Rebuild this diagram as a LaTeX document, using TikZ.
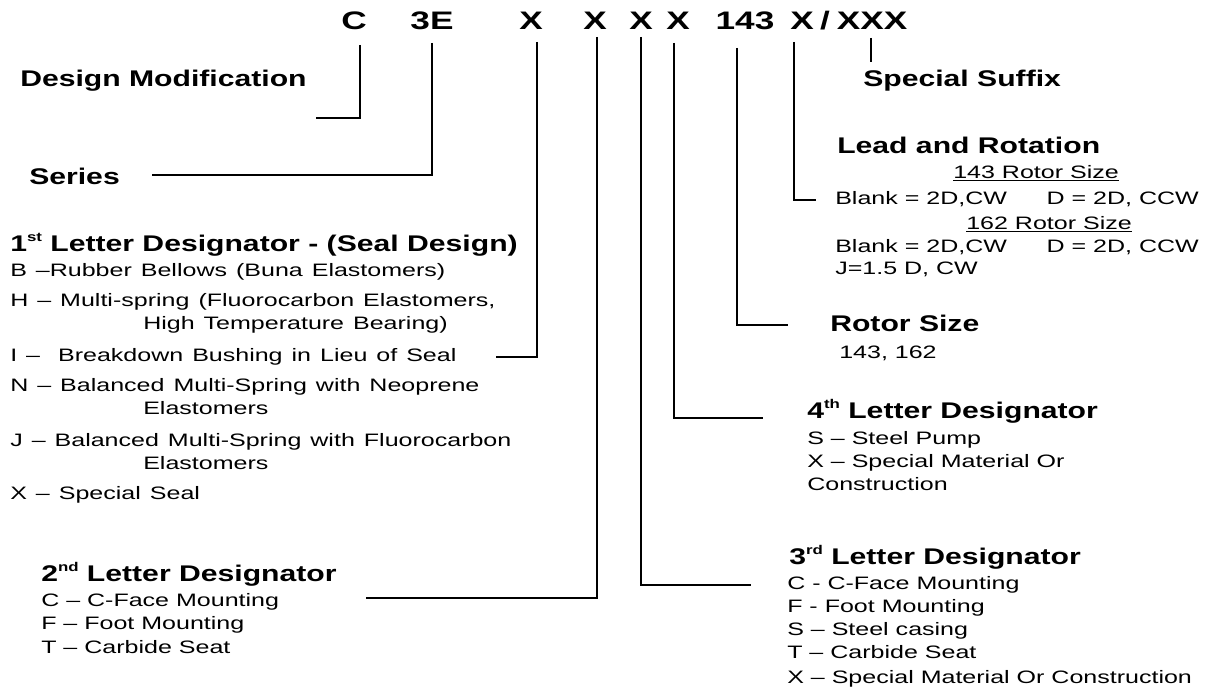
\documentclass[tikz,border=0pt]{standalone}
\usepackage{fontspec}
\setmainfont{Liberation Sans}[FakeStretch=1.39]
\newfontfamily\headfont{Liberation Sans}[FakeStretch=1.33]
\newcommand{\ordsup}[1]{\raisebox{0.42em}{\fontsize{9.5}{10}\selectfont #1}}
\newcommand{\widebodyfont}{\fontsize{13.5}{16}\selectfont\spaceskip=0.5em plus 0.1em minus 0.05em\relax}
\begin{document}
\begin{tikzpicture}[x=0.75pt,y=-0.75pt]
\tikzset{
 code/.style={font=\fontsize{19}{22}\selectfont\bfseries, inner sep=0pt, anchor=base},
 head/.style={font=\headfont\fontsize{17}{20}\selectfont\bfseries, inner sep=0pt, anchor=base west},
 body/.style={font=\fontsize{13.5}{16}\selectfont, inner sep=0pt, anchor=base west},
 bodywide/.style={font=\widebodyfont, inner sep=0pt, anchor=base west},
 conn/.style={line width=1.4pt, black},
}
\useasboundingbox (0,0) rectangle (1213,692);
% code row
\node[code] (cC) at (354,30) {C};
\node[code] (c3E) at (432,30) {3E};
\node[code] (cX1) at (531,30) {X};
\node[code] (cX2) at (595,30) {X};
\node[code] (cX3) at (641,30) {X};
\node[code] (cX4) at (678,30) {X};
\node[code] (c143) at (745,30) {143};
\node[code] (cX5) at (802,30) {X};
\node[code] (cSl) at (825,30) {/};
\node[code] (cXXX) at (872,30) {XXX};
% headers
\node[head] (hDM) at (20,87) {Design Modification};
\node[head] (hSer) at (29,184) {Series};
\node[head] (h1) at (10,251) {1\ordsup{st} Letter Designator - (Seal Design)};
\node[head] (h2) at (41,581) {2\ordsup{nd} Letter Designator};
\node[head] (h3) at (789,564) {3\ordsup{rd} Letter Designator};
\node[head] (h4) at (807,418) {4\ordsup{th} Letter Designator};
\node[head] (hRS) at (830,331) {Rotor Size};
\node[head] (hLR) at (837,153) {Lead and Rotation};
\node[head] (hSS) at (863,86) {Special Suffix};
% 1st designator items
\node[bodywide] (b1) at (10,276.5) {B –Rubber Bellows (Buna Elastomers)};
\node[bodywide] (b2) at (10,306.5) {H – Multi-spring (Fluorocarbon Elastomers,};
\node[bodywide] (b3) at (143,329.5) {High Temperature Bearing)};
\node[bodywide] (b4) at (10,361.5) {I – \ Breakdown Bushing in Lieu of Seal};
\node[bodywide] (b5) at (10,391.5) {N – Balanced Multi-Spring with Neoprene};
\node[bodywide] (b6) at (143,414.5) {Elastomers};
\node[bodywide] (b7) at (10,446.5) {J – Balanced Multi-Spring with Fluorocarbon};
\node[bodywide] (b8) at (143,469.5) {Elastomers};
\node[bodywide] (b9) at (10,499.5) {X – Special Seal};
% 2nd designator
\node[body] (s1) at (41,606.5) {C – C-Face Mounting};
\node[body] (s2) at (41,629.5) {F – Foot Mounting};
\node[body] (s3) at (41,653.5) {T – Carbide Seat};
% 3rd designator
\node[body] (t1) at (787,589.5) {C - C-Face Mounting};
\node[body] (t2) at (787,612.5) {F - Foot Mounting};
\node[body] (t3) at (787,635.5) {S – Steel casing};
\node[body] (t4) at (787,658.5) {T – Carbide Seat};
\node[body] (t5) at (787,683.5) {X – Special Material Or Construction};
% 4th designator
\node[body] (f1) at (807,444.5) {S – Steel Pump};
\node[body] (f2) at (807,467.5) {X – Special Material Or};
\node[body] (f3) at (807,490.5) {Construction};
% rotor size
\node[body] (r1) at (839,358.5) {143, 162};
% lead and rotation
\node[body] (l1) at (953,178.5) {\underline{143 Rotor Size}};
\node[body] (l2) at (835,204.5) {Blank = 2D,CW\hspace{2.2em}D = 2D, CCW};
\node[body] (l3) at (966,229.5) {\underline{162 Rotor Size}};
\node[body] (l4) at (835,252.5) {Blank = 2D,CW\hspace{2.2em}D = 2D, CCW};
\node[body] (l5) at (835,274.5) {J=1.5 D, CW};
% connector end points
\coordinate (tC) at (360,45);   \coordinate (eC) at (316,118);
\coordinate (t3E) at (432,43);  \coordinate (e3E) at (152,175);
\coordinate (tX1) at (537,42);  \coordinate (eX1) at (496,357);
\coordinate (tX2) at (597,37);  \coordinate (eX2) at (366,598);
\coordinate (tX3) at (641,37);  \coordinate (eX3) at (751,585);
\coordinate (tX4) at (674,43);  \coordinate (eX4) at (763,418);
\coordinate (t143) at (737,48); \coordinate (e143) at (788,325);
\coordinate (tX5) at (794,42);  \coordinate (eX5) at (816,200);
\coordinate (tXXX) at (871,38); \coordinate (eXXX) at (871,62);
\draw[conn] (tC) |- (eC);
\draw[conn] (t3E) |- (e3E);
\draw[conn] (tX1) |- (eX1);
\draw[conn] (tX2) |- (eX2);
\draw[conn] (tX3) |- (eX3);
\draw[conn] (tX4) |- (eX4);
\draw[conn] (t143) |- (e143);
\draw[conn] (tX5) |- (eX5);
\draw[conn] (tXXX) -- (eXXX);
\end{tikzpicture}
\end{document}
